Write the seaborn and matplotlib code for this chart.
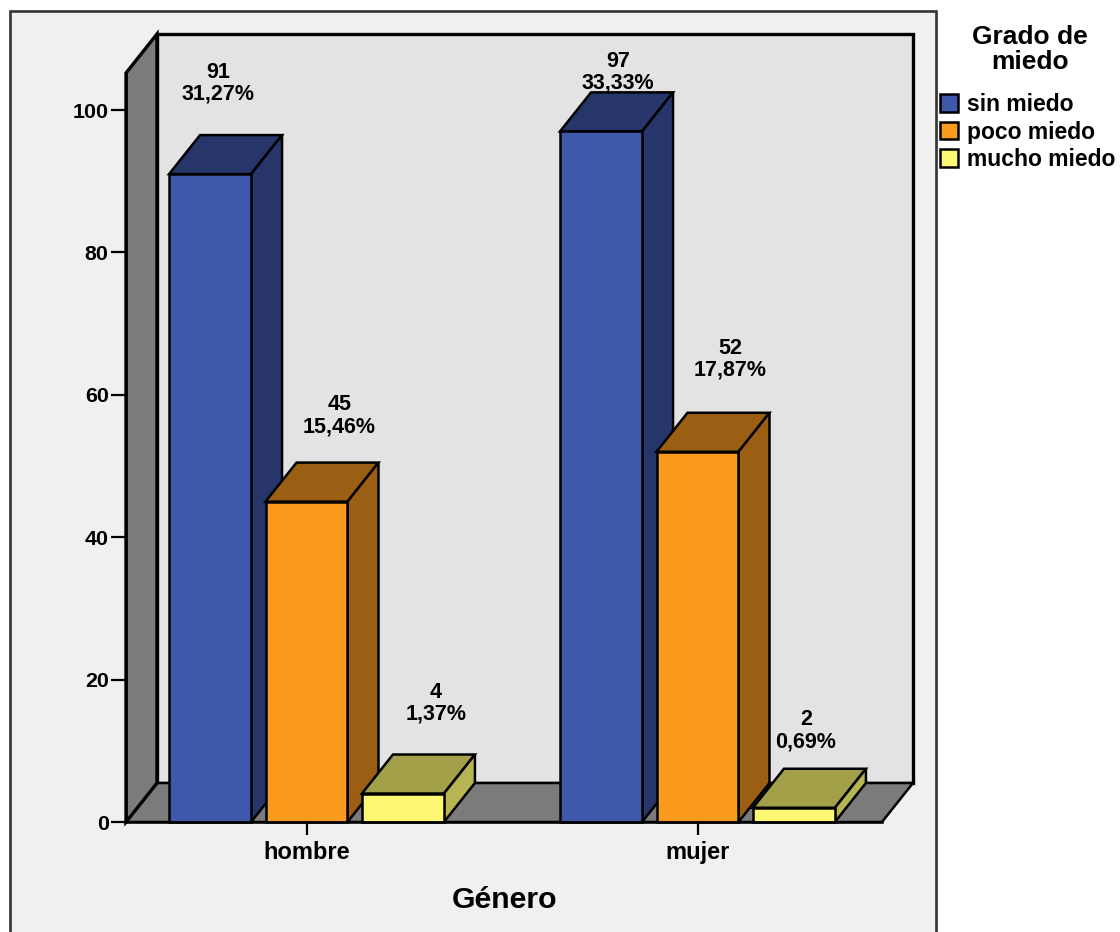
import matplotlib
matplotlib.use("Agg")
import matplotlib.pyplot as plt
from matplotlib.patches import Polygon, Rectangle
import pandas as pd
import seaborn as sns

W, H = 1120, 932

generos = ["hombre", "mujer"]
grados = ["sin miedo", "poco miedo", "mucho miedo"]
sin_miedo = [91, 97]
poco_miedo = [45, 52]
mucho_miedo = [4, 2]
pct_sin = ["31,27%", "33,33%"]
pct_poco = ["15,46%", "17,87%"]
pct_mucho = ["1,37%", "0,69%"]

front_colors = ["#3e58ac", "#fb9b1e", "#fdf873"]
top_colors = ["#26366b", "#9a5f12", "#a3a04a"]
side_colors = ["#26366b", "#9a5f12", "#b7b553"]
# label offsets from bar front (px): right of bar centre, above bar top
label_dx = [[8, 17], [33, 33], [33, 12]]
label_dy = [[91, 59], [86, 92.5], [90, 77]]

df = pd.DataFrame({
    "Género": generos * 3,
    "Grado": [g for g in grados for _ in generos],
    "n": sin_miedo + poco_miedo + mucho_miedo,
})

sns.set_theme(style="white")
plt.rcParams["font.family"] = ["Liberation Sans", "DejaVu Sans"]
plt.rcParams["font.weight"] = "bold"

fig = plt.figure(figsize=(W / 100, H / 100), dpi=100, facecolor="white")
fig.add_artist(Rectangle((9.5 / W, -0.02), 926.5 / W, 1.02 - 10.5 / H, transform=fig.transFigure,
                         facecolor="#f0f0f0", edgecolor="#333333", linewidth=1.9, zorder=-5))
ax = fig.add_axes([126 / W, 1 - 822 / H, 756 / W, 749 / H])
ax.patch.set_alpha(0)

sns.barplot(data=df, x="Género", y="n", hue="Grado", hue_order=grados, order=generos,
            palette=front_colors, width=0.74, gap=0.15, edgecolor="black", linewidth=1.8,
            saturation=1, errorbar=None, ax=ax)

PX_PER_X = 391.0
PX_PER_Y = 7.12
x0, x1 = -180.5 / PX_PER_X, 575.5 / PX_PER_X
y1 = 749 / PX_PER_Y
ax.set_xlim(x0, x1)
ax.set_ylim(0, y1)
DX, DY = 31 / PX_PER_X, 39 / PX_PER_Y

EDGE = dict(edgecolor="black", linewidth=1.8, clip_on=False, joinstyle="miter")

# walls
ax.add_patch(Polygon([(x0 + DX, DY), (x1 + DX, DY), (x1 + DX, y1 + DY), (x0 + DX, y1 + DY)],
                     facecolor="#e3e3e3", zorder=0.5, **{**EDGE, "linewidth": 2.4}))
ax.add_patch(Polygon([(x0, 0), (x0 + DX, DY), (x1 + DX, DY), (x1, 0)],
                     facecolor="#7b7b7b", zorder=0.6, **EDGE))
ax.add_patch(Polygon([(x0, 0), (x0 + DX, DY), (x0 + DX, y1 + DY), (x0, y1)],
                     facecolor="#7b7b7b", zorder=0.7, **{**EDGE, "linewidth": 2.4}))

# 3-D faces derived from the seaborn bars
z = 2.0
order = sorted(
    ((bar.get_x(), h, j) for h, cont in enumerate(ax.containers) for j, bar in enumerate(cont)),
)
for _, h, j in order:
    bar = ax.containers[h][j]
    l, w, t = bar.get_x(), bar.get_width(), bar.get_height()
    r = l + w
    ax.add_patch(Polygon([(l, t), (l + DX, t + DY), (r + DX, t + DY), (r, t)],
                         facecolor=top_colors[h], zorder=z, **EDGE))
    ax.add_patch(Polygon([(r, 0), (r + DX, DY), (r + DX, t + DY), (r, t)],
                         facecolor=side_colors[h], zorder=z, **EDGE))
    bar.set_zorder(z + 0.1)
    bar.set_clip_on(False)
    z += 0.2
    txt = [sin_miedo, poco_miedo, mucho_miedo][h][j]
    pct = [pct_sin, pct_poco, pct_mucho][h][j]
    ax.text(l + w / 2 + label_dx[h][j] / PX_PER_X, t + label_dy[h][j] / PX_PER_Y,
            f"{txt}\n{pct}", ha="center", va="center", fontsize=15.5, fontweight="bold",
            color="black", linespacing=1.05, zorder=1.5, clip_on=False)

sns.despine(ax=ax, top=True, right=True)
for s in ("left", "bottom"):
    ax.spines[s].set_linewidth(1.8)
    ax.spines[s].set_color("black")
    ax.spines[s].set_zorder(5)
ax.spines["left"].set_visible(True)

ax.set_yticks(range(0, 101, 20))
ax.tick_params(axis="y", length=10.5, width=1.6, color="black", pad=2, labelsize=15.4, left=True)
ax.tick_params(axis="x", length=9, width=1.6, color="black", pad=4.5, labelsize=17, bottom=True)
for lab in ax.get_xticklabels() + ax.get_yticklabels():
    lab.set_fontweight("bold")
    lab.set_color("black")
ax.set_ylabel("")
ax.set_xlabel("Género", fontsize=21.8, fontweight="bold", color="black", labelpad=16)

handles, labels = ax.get_legend_handles_labels()
leg = ax.legend(handles, labels, loc="upper left",
                bbox_to_anchor=(940 / W, 1 - 93 / H), bbox_transform=fig.transFigure,
                frameon=False, fontsize=16.5,
                borderpad=0, borderaxespad=0, handlelength=0.8, handleheight=0.8,
                handletextpad=0.36, labelspacing=0.2)
for t in leg.get_texts():
    t.set_fontweight("bold")
    t.set_color("black")
fig.text(1030 / W, 1 - 49.5 / H, "Grado de\nmiedo", ha="center", va="center",
         fontsize=19, fontweight="bold", color="black", linespacing=1.08)

fig.savefig("out.png", dpi=100)
